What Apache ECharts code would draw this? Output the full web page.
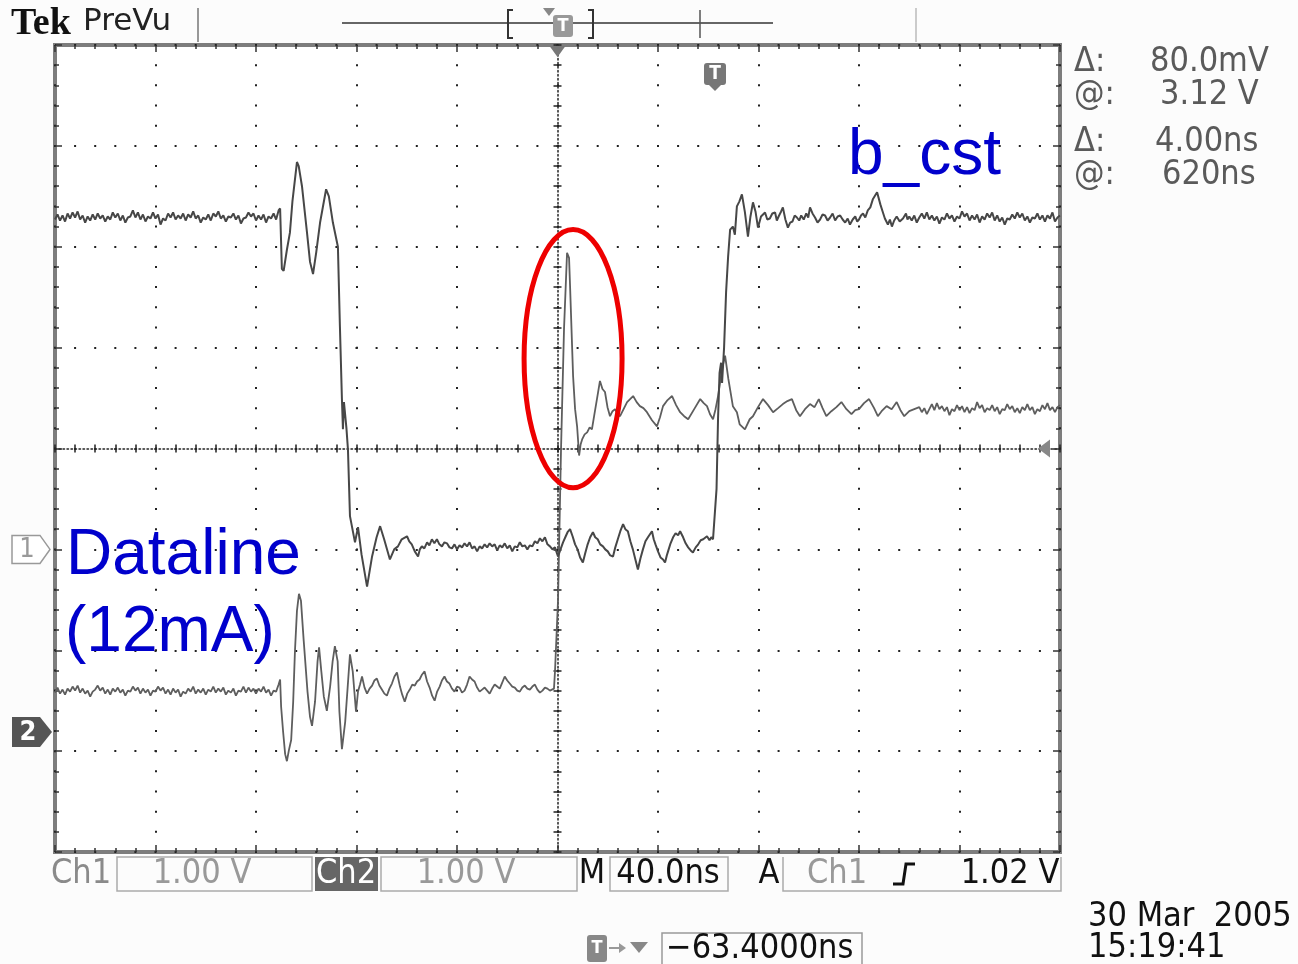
<!DOCTYPE html>
<html><head><meta charset="utf-8">
<script src="https://cdn.jsdelivr.net/npm/echarts@6/dist/echarts.min.js"></script>
<style>html,body{margin:0;padding:0;background:#fcfcfc}#c{width:1298px;height:964px}</style>
</head><body><div id="c"></div>
<script>
// ---- Scope settings ----
const timePerDivNs = 40;          // M 40.0ns
const voltsPerDiv = 1;            // Ch1 1.00 V, Ch2 1.00 V
const sampleNs = 1;               // spacing of the noisy flat records
const ch1GroundDiv = -1;          // Ch1 ground marker position (divisions from centre)
const ch2GroundDiv = -2.81;       // Ch2 ground marker position
const ellipseCentre = [206.2, 0.89]; // annotation centre [ns, div]
const ellipseRadius = [19.5, 1.28];  // [ns, div]

// ---- Ch1 (volts) ----
// flat record sampled every 1 ns starting at 0 ns
const ch1FlatA = [3.27,3.32,3.26,3.31,3.25,3.33,3.28,3.34,3.29,3.35,3.27,3.31,3.24,3.30,3.26,3.32,3.27,3.33,3.28,3.31,3.25,3.30,3.27,3.34,3.29,3.33,3.26,3.31,3.24,3.29,3.30,3.36,3.29,3.34,3.27,3.32,3.25,3.30,3.28,3.34,3.28,3.32,3.22,3.28,3.26,3.33,3.29,3.34,3.27,3.31,3.28,3.33,3.26,3.32,3.29,3.35,3.28,3.31,3.24,3.29,3.27,3.32,3.26,3.33,3.30,3.35,3.28,3.31,3.25,3.30,3.29,3.33,3.27,3.31,3.23,3.28,3.29,3.34,3.30,3.33,3.26,3.31,3.27,3.32,3.24,3.30,3.28,3.33,3.27,3.36];
const ch1FlatAStart = 0;
// falling edge and ringing [ns, V]
const ch1Fall = [[89.6,3.38],[90.3,2.78],[91.0,2.76],[92.3,2.97],[93.5,3.14],[94.5,3.45],[96.3,3.84],[97.0,3.80],[98.3,3.60],[100.3,3.14],[101.5,2.85],[102.7,2.73],[104.0,2.95],[105.5,3.24],[107.9,3.57],[109.0,3.50],[110.6,3.24],[112.6,3.00],[113.4,2.21],[114.2,1.49],[114.6,1.19],[115.0,1.46],[115.4,1.46],[116.0,1.20],[116.6,0.99],[117.4,0.33],[119.4,0.07],[120.6,0.22],[122.0,-0.05],[124.2,-0.37],[126.2,-0.07],[128.0,0.12],[129.4,0.23],[131.0,0.10],[133.3,-0.10],[135.0,0.00],[136.5,0.03],[138.0,0.10],[140.1,0.13],[141.0,0.08],[142.0,0.05],[143.2,-0.02],[144.5,-0.07],[145.2,0.00],[146.0,0.03],[147.0,0.01],[148.1,0.07],[149.0,0.04],[150.0,0.10],[151.0,0.06],[152.0,0.10],[153.0,0.05],[154.0,0.03],[155.0,0.07],[156.0,0.06],[157.0,0.02]];
// low level, 1 ns samples from 158 ns
const ch1FlatB = [0.01,0.05,0.00,0.04,0.02,0.06,0.03,0.07,0.01,0.03,-0.02,0.03,0.01,0.05,0.02,0.06,0.03,0.05,-0.01,0.04,0.02,0.06,0.01,0.04,-0.02,0.03,0.02,0.07,0.03,0.04,0.00,0.04,0.03,0.08,0.06,0.11,0.08,0.12,0.05,0.03,0.00];
const ch1FlatBStart = 158;
// disturbance while Ch2 switches, then rising edge [ns, V]
const ch1Rise = [[199.0,0.02],[200.2,-0.07],[201.2,0.00],[202.2,0.07],[203.1,0.12],[204,0.17],[205,0.20],[206,0.13],[207,0.05],[208,0.00],[209,-0.08],[210.1,-0.13],[211,-0.04],[212,0.05],[213,0.12],[214.1,0.17],[215,0.12],[216,0.10],[217,0.05],[218.1,0.03],[219,0.00],[220,-0.02],[221,-0.06],[222.1,-0.07],[223,0.02],[224,0.10],[225,0.18],[226.1,0.25],[227,0.20],[228,0.18],[229,0.08],[230,0.00],[231,-0.10],[232,-0.20],[233,-0.09],[234,0.00],[235,0.08],[236,0.12],[237.6,0.18],[238.3,0.10],[239,0.05],[240,-0.02],[241,-0.08],[242,-0.10],[242.8,-0.13],[243.5,-0.06],[244,-0.02],[245,0.06],[246,0.12],[247,0.16],[248,0.14],[248.8,0.18],[250,0.12],[251,0.06],[252,0.02],[253,-0.01],[253.9,-0.03],[255,0.02],[256,0.05],[257,0.09],[258,0.10],[259.5,0.13],[260.5,0.09],[261.2,0.12],[261.9,0.10],
[263.3,0.60],[263.9,1.30],[264.5,1.75],[265.1,1.85],[265.5,1.65],[266.3,2.00],[267.1,2.55],[267.9,2.90],[268.7,3.17],[269.8,3.20],[270.6,3.12],[271.4,3.40],[272.4,3.45],[273.4,3.52],[274.6,3.34],[275.8,3.10],[276.8,3.30],[277.8,3.44],[278.8,3.35],[279.8,3.19],[281.0,3.30],[282.6,3.34],[283.5,3.27],[284.5,3.28],[285.5,3.33],[286.6,3.34],[287.3,3.26],[288.0,3.30],[289.0,3.35],[289.7,3.39],[290.7,3.27],[291.7,3.19],[292.6,3.24],[293.5,3.25],[294.4,3.31],[295.3,3.29],[296.2,3.26],[297.0,3.31],[298.0,3.27],[299.0,3.33],[299.8,3.29],[300.5,3.39],[301.5,3.33],[302.5,3.29],[303.5,3.24],[304.5,3.27],[305.5,3.32],[306.5,3.31],[307.5,3.26],[308.5,3.29],[309.5,3.33],[310.5,3.26],[311.5,3.30],[312.5,3.31],[313.5,3.27],[314.5,3.24],[315.5,3.28],[316.4,3.22],[317.5,3.27],[318.5,3.30],[319.3,3.25],[320.0,3.27],[320.8,3.31],[321.6,3.33],[322.5,3.29],[323.5,3.36],[324.5,3.39],[325.5,3.47],[327.2,3.54],[328.5,3.42],[329.4,3.35],[330.3,3.28],[331.5,3.22],[332.3,3.27],[333.1,3.20],[334.0,3.26],[335.0,3.30],[336.2,3.25],[337.5,3.28],[338.7,3.33],[339.3,3.27]];
// high level, 1 ns samples from 340 ns
const ch1FlatC = [3.30,3.26,3.31,3.24,3.29,3.33,3.28,3.34,3.27,3.31,3.26,3.30,3.23,3.29,3.27,3.33,3.28,3.31,3.25,3.30,3.28,3.35,3.30,3.33,3.26,3.31,3.27,3.32,3.24,3.30,3.27,3.33,3.29,3.34,3.26,3.31,3.25,3.29,3.22,3.28,3.27,3.32,3.28,3.34,3.29,3.33,3.26,3.30,3.24,3.29,3.28,3.33,3.27,3.31,3.25,3.31,3.28,3.34,3.25,3.29,3.31];
const ch1FlatCStart = 340;

// ---- Ch2 (volts) ----
const ch2FlatA = [0.39,0.44,0.38,0.42,0.37,0.43,0.40,0.45,0.41,0.46,0.39,0.43,0.38,0.41,0.35,0.40,0.42,0.46,0.41,0.44,0.38,0.42,0.37,0.43,0.40,0.44,0.39,0.42,0.36,0.41,0.40,0.45,0.41,0.44,0.38,0.43,0.39,0.42,0.36,0.41,0.40,0.45,0.41,0.44,0.38,0.42,0.37,0.43,0.39,0.42,0.35,0.40,0.38,0.43,0.40,0.45,0.38,0.42,0.39,0.43,0.37,0.42,0.40,0.45,0.39,0.43,0.40,0.44,0.37,0.41,0.39,0.43,0.36,0.41,0.40,0.45,0.39,0.44,0.40,0.43,0.38,0.43,0.40,0.45,0.39,0.42,0.36,0.41,0.40,0.47];
const ch2FlatAStart = 0;
const ch2Ring = [[89.6,0.52],[90.0,0.25],[90.8,0.00],[91.6,-0.22],[92.3,-0.29],[93.1,-0.18],[94.0,-0.08],[94.8,0.30],[95.5,0.80],[96.3,1.20],[97.1,1.37],[97.9,1.30],[99.0,0.90],[100.5,0.40],[101.5,0.15],[102.3,0.06],[103.5,0.30],[104.5,0.70],[105.1,0.84],[106.0,0.60],[107.0,0.35],[108.2,0.21],[109.5,0.45],[110.5,0.70],[111.4,0.85],[112.5,0.70],[113.2,0.20],[114.2,-0.17],[115.5,0.10],[116.5,0.45],[117.4,0.77],[118.5,0.60],[119.8,0.20],[120.6,0.40],[121.4,0.47],[122.2,0.55],[123.2,0.44],[124.2,0.38],[125.2,0.43],[126.2,0.46],[127.1,0.51],[128.1,0.53],[129.1,0.46],[130.1,0.42],[131.1,0.38],[132.1,0.36],[133.1,0.43],[134.1,0.48],[135.1,0.55],[136.1,0.59],[137.3,0.45],[138.2,0.37],[139.2,0.30],[140.2,0.38],[141.2,0.42],[142.2,0.47],[143.2,0.46],[144.1,0.50],[145.1,0.52],[146.1,0.57],[147.1,0.60],[148.1,0.50],[149.1,0.44],[150.1,0.36],[151.1,0.31],[152.1,0.40],[153.1,0.45],[154.0,0.51],[155.0,0.55],[156.0,0.50],[157.0,0.48],[158.0,0.43],[159.0,0.40],[160.0,0.45],[161.0,0.44],[162.0,0.39],[163.0,0.41],[164.0,0.47],[165.0,0.55],[166.0,0.52],[167.0,0.50],[168.0,0.44],[169.0,0.40],[170.0,0.42],[171.0,0.44],[172.0,0.41],[173.0,0.38],[174.0,0.43],[175.0,0.47],[176.0,0.45],[177.0,0.43],[178.0,0.49],[179.0,0.55],[180.0,0.51],[181.0,0.48],[182.0,0.45],[183.0,0.44],[184.0,0.41],[185.0,0.40],[186.0,0.44],[187.0,0.46],[188.0,0.43],[189.0,0.42],[190.0,0.45],[191.0,0.47],[192.0,0.42],[193.0,0.39],[194.0,0.41],[195.0,0.44],[196.0,0.43],[197.0,0.41],[198.6,0.43],
[199.0,0.60],[200.2,1.30],[201.4,2.80],[202.6,4.00],[203.8,4.75],[204.6,4.70],[205.0,4.42],[206.2,3.53],[207.0,3.20],[207.8,3.03],[208.6,2.74],[209.2,2.85],[209.8,2.90],[210.8,2.95],[211.8,2.97],[212.8,3.02],[213.7,3.00],[214.7,3.15],[215.7,3.30],[216.9,3.48],[217.9,3.40],[218.9,3.37],[219.9,3.22],[220.9,3.13],[221.9,3.18],[222.9,3.20],[223.9,3.15],[224.9,3.13],[226.3,3.20],[227.7,3.27],[228.9,3.30],[230.1,3.33],[231.5,3.27],[232.8,3.23],[234.2,3.21],[235.6,3.17],[237.6,3.09],[239.6,3.03],[240.8,3.12],[242.0,3.23],[243.8,3.29],[245.6,3.33],[247.2,3.24],[248.8,3.17],[250.4,3.13],[252.0,3.10],[254.4,3.20],[256.8,3.30],[258.2,3.26],[259.5,3.23],[260.7,3.15],[261.9,3.10],[262.9,3.20],[263.9,3.33],[265.5,3.60],[266.7,3.73],[268.0,3.50],[269.8,3.23],[271.4,3.17],[272.5,3.05],[274.6,3.00],[276.5,3.10],[277.8,3.13],[279.8,3.22],[281.8,3.30],[283.8,3.24],[285.8,3.17],[287.8,3.21],[289.7,3.25],[291.5,3.28],[293.3,3.30],[295.0,3.19],[296.5,3.13],[298.5,3.20],[300.5,3.25],[302.3,3.22],[304.0,3.30],[305.5,3.21],[307.0,3.13],[309.0,3.18],[311.0,3.22],[313.0,3.27],[315.0,3.20],[317.0,3.15],[318.5,3.19],[320.0,3.20],[322.0,3.26],[324.0,3.30],[326.0,3.21],[327.5,3.13],[329.0,3.18],[331.0,3.23],[333.0,3.20],[335.0,3.27],[336.5,3.19],[338.0,3.13],[340.0,3.18],[342.0,3.20]];
const ch2FlatB = [3.22,3.17,3.21,3.15,3.20,3.25,3.19,3.26,3.20,3.23,3.18,3.22,3.14,3.20,3.18,3.24,3.19,3.23,3.17,3.22,3.16,3.21,3.19,3.27,3.21,3.24,3.17,3.21,3.19,3.24,3.18,3.22,3.15,3.20,3.19,3.25,3.20,3.23,3.17,3.21,3.16,3.22,3.19,3.25,3.19,3.22,3.15,3.20,3.18,3.24,3.20,3.26,3.19,3.22,3.17,3.22,3.24];
const ch2FlatBStart = 344;

// ---- Readout texts ----
const cursorReadouts = [['Δ:', '80.0mV'], ['@:', '3.12 V'], ['Δ:', '4.00ns'], ['@:', '620ns']];
const annotations = ['b_cst', 'Dataline', '(12mA)'];

const SCOPE_FONT = '"DejaVu Sans Condensed", "DejaVu Sans", sans-serif';
const WIDE_FONT = '"DejaVu Sans", sans-serif';
const LABEL_FONT = '"Liberation Sans", Arial, sans-serif';
const DIVS_X = 10;

const sampled = (vals, t0) => vals.map((v, i) => [t0 + i * sampleNs, v]);
const ch1Data = [].concat(sampled(ch1FlatA, ch1FlatAStart), ch1Fall, sampled(ch1FlatB, ch1FlatBStart), ch1Rise, sampled(ch1FlatC, ch1FlatCStart));
const ch2Data = [].concat(sampled(ch2FlatA, ch2FlatAStart), ch2Ring, sampled(ch2FlatB, ch2FlatBStart));

function toDiv(data, groundDiv) {
  return data.map(p => [p[0], p[1] / voltsPerDiv + groundDiv]);
}

const tickCol = '#333';
function xAx(extra) {
  return Object.assign({
    type: 'value', min: 0, max: timePerDivNs * DIVS_X, interval: timePerDivNs,
    axisLabel: { show: false },
    axisLine: { show: false, onZero: false },
    axisTick: { show: true, inside: true, length: 7, lineStyle: { color: tickCol, width: 1.5 } },
    minorTick: { show: true, splitNumber: 5, length: 4, lineStyle: { color: tickCol, width: 1.5 } },
    splitLine: { show: false }
  }, extra);
}
function yAx(extra) {
  return Object.assign({
    type: 'value', min: -4, max: 4, interval: 1,
    axisLabel: { show: false },
    axisLine: { show: false, onZero: false },
    axisTick: { show: true, inside: true, length: 7, lineStyle: { color: tickCol, width: 1.5 } },
    minorTick: { show: true, splitNumber: 5, length: 4, lineStyle: { color: tickCol, width: 1.5 } },
    splitLine: { show: false }
  }, extra);
}
const GW = 1005, GH = 807;
const centreLine = { show: true, onZero: false, lineStyle: { color: '#222', width: 1.5, type: [1.5, 2.5] } };
const centreTick = (inside) => ({ show: true, inside: inside, length: 4, lineStyle: { color: '#222', width: 1.5 } });

const option = {
  animation: false,
  backgroundColor: '#fcfcfc',
  grid: { left: 55, top: 45, width: GW, height: GH, show: true, backgroundColor: '#ffffff', borderColor: '#7d7d7d', borderWidth: 4 },
  xAxis: [
    xAx({ position: 'bottom', splitLine: { show: true, lineStyle: { color: '#222', width: 2, type: [2, 18.175], dashOffset: 1 } } }),
    xAx({ position: 'top' }),
    xAx({ position: 'bottom', offset: -GH / 2, axisLine: centreLine, axisTick: centreTick(false), minorTick: Object.assign(centreTick(false), { splitNumber: 5 }) }),
    xAx({ position: 'bottom', offset: -GH / 2, axisTick: centreTick(true), minorTick: Object.assign(centreTick(true), { splitNumber: 5 }) })
  ],
  yAxis: [
    yAx({ position: 'left', splitLine: { show: true, lineStyle: { color: '#222', width: 2, type: [2, 18.1], dashOffset: 1 } } }),
    yAx({ position: 'right' }),
    yAx({ position: 'left', offset: -GW / 2, axisLine: centreLine, axisTick: centreTick(false), minorTick: Object.assign(centreTick(false), { splitNumber: 5 }) }),
    yAx({ position: 'left', offset: -GW / 2, axisTick: centreTick(true), minorTick: Object.assign(centreTick(true), { splitNumber: 5 }) })
  ],
  series: [
    { name: 'Ch2', type: 'line', xAxisIndex: 0, yAxisIndex: 0, data: toDiv(ch2Data, ch2GroundDiv), showSymbol: false, symbol: 'none', sampling: null,
      lineStyle: { color: '#5e5e5e', width: 1.8 }, z: 5 },
    { name: 'Ch1', type: 'line', xAxisIndex: 0, yAxisIndex: 0, data: toDiv(ch1Data, ch1GroundDiv), showSymbol: false, symbol: 'none', sampling: null,
      lineStyle: { color: '#474747', width: 2 }, z: 6 }
  ]
};

const chart = echarts.init(document.getElementById('c'), null, { renderer: 'canvas' });
chart.setOption(option);

const px = (t, d) => chart.convertToPixel({ xAxisIndex: 0, yAxisIndex: 0 }, [t, d]);

function txt(text, x, y, size, color, opts) {
  opts = opts || {};
  return { type: 'text', z: 100, style: Object.assign({
    text: text, x: x, y: y, fill: color, fontSize: size, fontFamily: opts.family || SCOPE_FONT,
    fontWeight: opts.weight || 'normal', textAlign: opts.align || 'left', textVerticalAlign: 'middle', verticalAlign: 'middle'
  }, opts.style || {}) };
}
function box(x, y, w, h, stroke, fill) {
  return { type: 'rect', z: 90, shape: { x: x, y: y, width: w, height: h }, style: { fill: fill || 'none', stroke: stroke || 'none', lineWidth: 1.5 } };
}
function ln(points, color, width) {
  return { type: 'polyline', z: 90, shape: { points: points }, style: { stroke: color, lineWidth: width || 1.5, fill: 'none' } };
}
function poly(points, fill, stroke) {
  return { type: 'polygon', z: 95, shape: { points: points }, style: { fill: fill, stroke: stroke || 'none', lineWidth: 1.5 } };
}

const c = px(ellipseCentre[0], ellipseCentre[1]);
const e = px(ellipseCentre[0] + ellipseRadius[0], ellipseCentre[1] + ellipseRadius[1]);
const g1 = px(0, ch1GroundDiv)[1];
const g2 = px(0, ch2GroundDiv)[1];
const trigX = px(timePerDivNs * DIVS_X / 2, 0)[0];
const centreY = px(0, 0)[1];

const G = [];
// red annotation ellipse
G.push({ type: 'ellipse', z: 120, shape: { cx: c[0], cy: c[1], rx: Math.abs(e[0] - c[0]), ry: Math.abs(e[1] - c[1]) }, style: { fill: 'none', stroke: '#ee0000', lineWidth: 5 } });
// blue annotation texts
G.push(txt(annotations[0], 848, 156, 64, '#0000cc', { family: LABEL_FONT }));
G.push(txt(annotations[1], 66, 556, 64, '#0000cc', { family: LABEL_FONT }));
G.push(txt(annotations[2], 65, 633, 64, '#0000cc', { family: LABEL_FONT }));

// header
G.push(txt('Tek', 11, 24, 38, '#111', { family: '"Liberation Serif", "DejaVu Serif", serif', weight: 'bold' }));
G.push(txt('PreVu', 83, 22, 31, '#222', { family: WIDE_FONT }));
G.push(ln([[198, 8], [198, 42]], '#777', 1.5));
G.push(ln([[916, 8], [916, 42]], '#bbb', 1.5));
G.push(ln([[342, 23], [773, 23]], '#666', 2));
G.push(ln([[700, 10], [700, 38]], '#555', 1.5));
G.push(ln([[513, 10], [508, 10], [508, 38], [513, 38]], '#333', 2));
G.push(ln([[588, 10], [593, 10], [593, 38], [588, 38]], '#333', 2));
G.push(poly([[543, 8], [555, 8], [549, 16]], '#888'));
G.push({ type: 'rect', z: 95, shape: { x: 553, y: 15, width: 20, height: 22, r: 3 }, style: { fill: '#999' } });
G.push(txt('T', 563, 26, 18, '#fff', { align: 'center', weight: 'bold' }));

// trigger position marker on top of graticule
G.push(poly([[trigX - 8, 46], [trigX + 8, 46], [trigX, 57]], '#777'));
// T marker inside graticule
G.push({ type: 'rect', z: 95, shape: { x: 704, y: 63, width: 22, height: 22, r: 3 }, style: { fill: '#777' } });
G.push(poly([[708, 84], [722, 84], [715, 91]], '#777'));
G.push(txt('T', 715, 74, 19, '#fff', { align: 'center', weight: 'bold' }));
// trigger level arrow on right
G.push(poly([[1038, centreY], [1050, centreY - 9], [1050, centreY + 9]], '#888'));

// channel ground markers
G.push(poly([[12, g1 - 14], [40, g1 - 14], [50, g1], [40, g1 + 14], [12, g1 + 14]], '#fff', '#999'));
G.push(txt('1', 27, g1 + 1, 27, '#999', { align: 'center' }));
G.push(poly([[12, g2 - 15], [40, g2 - 15], [52, g2], [40, g2 + 15], [12, g2 + 15]], '#555'));
G.push(txt('2', 28, g2 + 1, 27, '#fff', { align: 'center', weight: 'bold' }));

// cursor readouts
const ry = [62, 95, 142, 175];
const rx = [1150, 1160, 1155, 1162];
cursorReadouts.forEach((r, i) => {
  G.push(txt(r[0], 1074, ry[i], 34, '#5a5a5a'));
  G.push(txt(r[1], rx[i], ry[i], 34, '#5a5a5a'));
});

// bottom status bar
const BS = 34;
G.push(txt('Ch1', 51, 874, BS, '#8a8a8a'));
G.push(box(117, 857, 195, 34, '#aaa'));
G.push(txt('1.00 V', 202, 874, BS, '#999', { align: 'center' }));
G.push(box(315, 857, 63, 34, null, '#666'));
G.push(txt('Ch2', 346, 874, BS, '#fff', { align: 'center' }));
G.push(box(381, 857, 196, 34, '#aaa'));
G.push(txt('1.00 V', 466, 874, BS, '#999', { align: 'center' }));
G.push(txt('M', 592, 874, BS, '#111', { align: 'center' }));
G.push(box(610, 857, 118, 34, '#aaa'));
G.push(txt('40.0ns', 668, 874, BS, '#111', { align: 'center' }));
G.push(txt('A', 769, 874, BS, '#111', { align: 'center' }));
G.push(ln([[783, 857], [783, 891], [1061, 891], [1061, 857]], '#aaa', 1.5));
G.push(txt('Ch1', 837, 874, BS, '#999', { align: 'center' }));
G.push(ln([[893, 884], [903, 884], [906, 864], [915, 864]], '#111', 3));
G.push(txt('1.02 V', 1010, 874, BS, '#111', { align: 'center' }));

G.push(txt('30 Mar  2005', 1088, 917, BS, '#111'));
G.push(txt('15:19:41', 1088, 948, BS, '#111'));

G.push({ type: 'rect', z: 95, shape: { x: 587, y: 935, width: 20, height: 27, r: 3 }, style: { fill: '#888' } });
G.push(txt('T', 597, 948, 18, '#fff', { align: 'center', weight: 'bold' }));
G.push(ln([[609, 948], [623, 948]], '#999', 2));
G.push(poly([[619, 943], [626, 948], [619, 953]], '#999'));
G.push(poly([[630, 942], [648, 942], [639, 953]], '#888'));
G.push(box(662, 933, 200, 34, '#999'));
G.push(txt('−63.4000ns', 666, 949, BS, '#111'));

chart.setOption({ graphic: { elements: G } });
</script>
</body></html>
